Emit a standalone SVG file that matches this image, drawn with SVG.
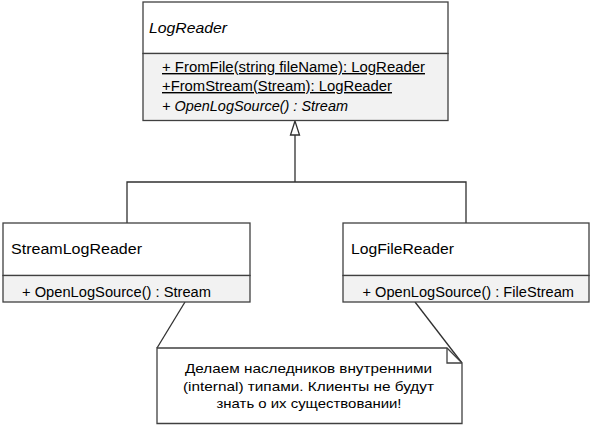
<svg xmlns="http://www.w3.org/2000/svg" width="591" height="426" viewBox="0 0 591 426">
<style>
.box{fill:#ffffff;stroke:#404040;stroke-width:1.3}
.comp{fill:#f2f2f2;stroke:#404040;stroke-width:1.3}
.t{font-family:"Liberation Sans",Arial,sans-serif;font-size:14px;fill:#000}
.i{font-style:italic}
.u{text-decoration:underline}
.c{fill:none;stroke:#303030;stroke-width:1.3}
.n{font-family:"Liberation Sans",Arial,sans-serif;font-size:13.5px;fill:#000;text-anchor:middle}
</style>
<rect width="591" height="426" fill="#ffffff"/>
<g id="connectors">
<polyline class="c" points="127,223 127,182 466,182 466,223"/>
<line class="c" x1="295" y1="182" x2="295" y2="135"/>
<polygon points="295,121 290.5,135 299.5,135" fill="#ffffff" stroke="#303030" stroke-width="1.3"/>
<line class="c" x1="185" y1="302" x2="157" y2="348"/>
<line class="c" x1="415" y1="302" x2="462" y2="363"/>
</g>
<g id="LogReader">
<rect class="box" x="143" y="2" width="305" height="51.5"/>
<rect class="comp" x="143" y="53.5" width="305" height="67"/>
<text class="t i" x="149" y="33" textLength="78" lengthAdjust="spacingAndGlyphs">LogReader</text>
<text class="t u" x="162" y="72" textLength="263" lengthAdjust="spacingAndGlyphs">+ FromFile(string fileName): LogReader</text>
<text class="t u" x="162" y="91" textLength="230" lengthAdjust="spacingAndGlyphs">+FromStream(Stream): LogReader</text>
<text class="t i" x="162" y="110.5" textLength="186" lengthAdjust="spacingAndGlyphs">+ OpenLogSource() : Stream</text>
</g>
<g id="StreamLogReader">
<rect class="box" x="3" y="223" width="247" height="52.5"/>
<rect class="comp" x="3" y="275.5" width="247" height="26.5"/>
<text class="t" x="11" y="253.5" textLength="131" lengthAdjust="spacingAndGlyphs">StreamLogReader</text>
<text class="t" x="22" y="297" textLength="189" lengthAdjust="spacingAndGlyphs">+ OpenLogSource() : Stream</text>
</g>
<g id="LogFileReader">
<rect class="box" x="343" y="223" width="246" height="52.5"/>
<rect class="comp" x="343" y="275.5" width="246" height="26.5"/>
<text class="t" x="351" y="253.5" textLength="103" lengthAdjust="spacingAndGlyphs">LogFileReader</text>
<text class="t" x="362.5" y="297" textLength="211.5" lengthAdjust="spacingAndGlyphs">+ OpenLogSource() : FileStream</text>
</g>
<g id="note">
<polygon points="157,348 447,348 462,363 462,423.5 157,423.5" fill="#ffffff" stroke="#404040" stroke-width="1.3"/>
<polyline points="447,348 447,363 462,363" fill="none" stroke="#404040" stroke-width="1.3"/>
<text class="n" x="308.5" y="373" textLength="247" lengthAdjust="spacingAndGlyphs">Делаем наследников внутренними</text>
<text class="n" x="308.5" y="390.5" textLength="251" lengthAdjust="spacingAndGlyphs">(internal) типами. Клиенты не будут</text>
<text class="n" x="309" y="408" textLength="185" lengthAdjust="spacingAndGlyphs">знать о их существовании!</text>
</g>
</svg>
